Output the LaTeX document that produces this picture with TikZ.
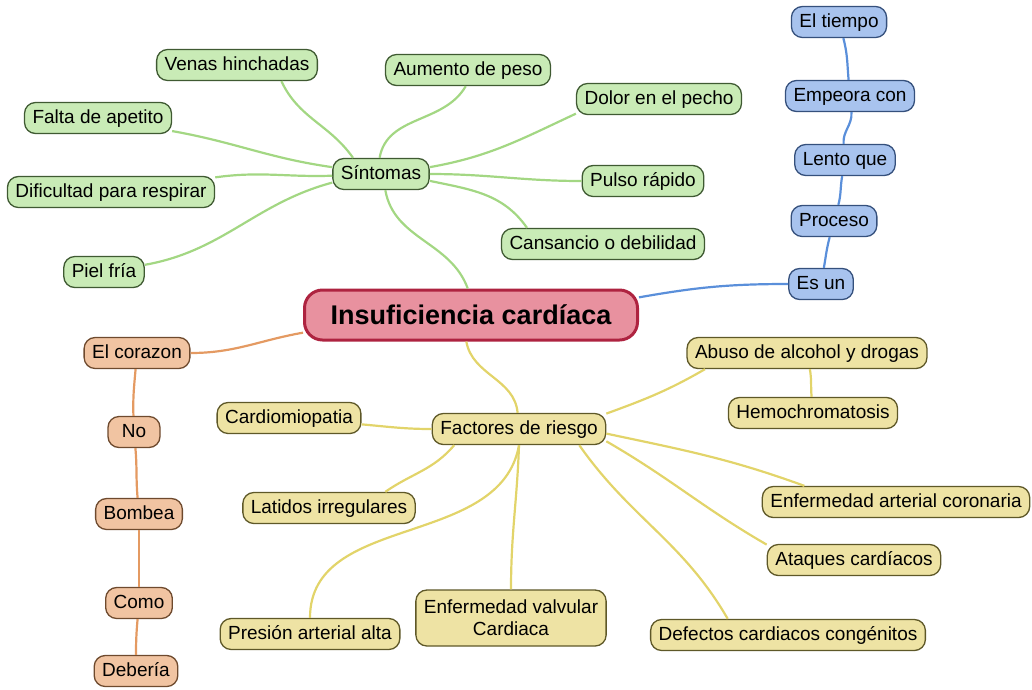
\documentclass[tikz,border=0pt]{standalone}
\usepackage{fontspec}
\setmainfont{Liberation Sans}

\definecolor{symfill}{HTML}{C9EBB6}
\definecolor{symdraw}{HTML}{3F5A32}
\definecolor{symline}{HTML}{A3D783}
\definecolor{riskfill}{HTML}{EEE3A4}
\definecolor{riskdraw}{HTML}{5E5828}
\definecolor{riskline}{HTML}{E2D46A}
\definecolor{bluefill}{HTML}{A8C3EE}
\definecolor{bluedraw}{HTML}{35507C}
\definecolor{blueline}{HTML}{5A8FDA}
\definecolor{orgfill}{HTML}{F1C4A2}
\definecolor{orgdraw}{HTML}{6E4A2E}
\definecolor{orgline}{HTML}{E49A62}
\definecolor{mainfill}{HTML}{E8919F}
\definecolor{maindraw}{HTML}{AE2340}

\begin{document}
\begin{tikzpicture}[x=1pt, y=1pt,
		box/.style={draw, rounded corners=11pt, line width=1.3pt, inner xsep=8pt, inner ysep=0pt,
			minimum height=31pt, text height=14pt, text depth=4pt, font=\fontsize{19}{22}\selectfont},
		sym/.style={box, fill=symfill, draw=symdraw},
		risk/.style={box, fill=riskfill, draw=riskdraw},
		blu/.style={box, fill=bluefill, draw=bluedraw},
		org/.style={box, fill=orgfill, draw=orgdraw},
		symln/.style={draw=symline, line width=2.2pt},
		riskln/.style={draw=riskline, line width=2.2pt},
		bluln/.style={draw=blueline, line width=2.2pt},
		orgln/.style={draw=orgline, line width=2.2pt}]
		\useasboundingbox (0,0) rectangle (1032,-689);
		
		% centre
		\node[draw=maindraw, fill=mainfill, line width=3pt, rounded corners=18pt, minimum width=333pt, minimum height=50pt,
			font=\fontsize{27}{30}\selectfont\bfseries] (ic) at (471,-315) {Insuficiencia cardíaca};
		
		% sintomas
		\node[sym] (sint) at (381,-174) {Síntomas};
		\node[sym] (venas) at (237,-65) {Venas hinchadas};
		\node[sym] (aum) at (468,-70) {Aumento de peso};
		\node[sym] (falta) at (98,-118) {Falta de apetito};
		\node[sym] (dolor) at (659,-99) {Dolor en el pecho};
		\node[sym] (dif) at (111,-192) {Dificultad para respirar};
		\node[sym] (pulso) at (643,-181) {Pulso rápido};
		\node[sym] (cans) at (603,-244) {Cansancio o debilidad};
		\node[sym] (piel) at (104,-272) {Piel fría};
		
		% proceso
		\node[blu] (tiempo) at (839,-22) {El tiempo};
		\node[blu] (emp) at (850,-96) {Empeora con};
		\node[blu] (lento) at (845,-160) {Lento que};
		\node[blu] (proc) at (834,-221) {Proceso};
		\node[blu] (esun) at (821,-284) {Es un};
		
		% corazon
		\node[org] (cor) at (137,-353) {El corazon};
		\node[org, minimum width=52pt] (no) at (134,-432) {No};
		\node[org] (bomb) at (139,-514) {Bombea};
		\node[org] (como) at (139,-603) {Como};
		\node[org] (deb) at (136,-671) {Debería};
		
		% factores
		\node[risk] (fact) at (519,-429) {Factores de riesgo};
		\node[risk] (cardio) at (289,-418) {Cardiomiopatia};
		\node[risk] (lat) at (329,-508) {Latidos irregulares};
		\node[risk] (pres) at (310,-634) {Presión arterial alta};
		\node[risk, minimum height=56pt, align=center, text height=, text depth=, inner ysep=4pt] (valv) at (511,-618) {Enfermedad valvular\\Cardiaca};
		\node[risk] (def) at (788,-635) {Defectos cardiacos congénitos};
		\node[risk] (ataq) at (854,-560) {Ataques cardíacos};
		\node[risk] (coron) at (896,-502) {Enfermedad arterial coronaria};
		\node[risk] (abuso) at (807,-353) {Abuso de alcohol y drogas};
		\node[risk] (hemo) at (813,-413) {Hemochromatosis};
		
		\draw[symln] (ic.97) to[out=110, in=-80] (sint.-75);
		\draw[riskln] (ic.-100) to[out=-80, in=95] (fact);
		\draw[bluln] (ic.6) to[out=10, in=180] (esun);
		\draw[orgln] (ic.186) to[out=190, in=0] (cor);
		
		\draw[symln] (sint.150) to[out=125, in=-65] (venas.-20);
		\draw[symln] (sint.95) to[out=80, in=-120] (aum.-98);
		\draw[symln] (sint.172) to[out=172, in=-10] (falta);
		\draw[symln] (sint.182) to[out=182, in=8] (dif);
		\draw[symln] (sint.190) to[out=195, in=10] (piel);
		\draw[symln] (sint.8) to[out=10, in=205] (dolor.190);
		\draw[symln] (sint) to[out=0, in=180] (pulso);
		\draw[symln] (sint.-8) to[out=-12, in=125] (cans.168);
		
		\draw[bluln] (esun) to[out=80, in=-105] (proc);
		\draw[bluln] (proc) to[out=75, in=-100] (lento);
		\draw[bluln] (lento) to[out=95, in=-85] (emp);
		\draw[bluln] (emp) to[out=95, in=-75] (tiempo);
		
		\draw[orgln] (cor) to[out=-95, in=92] (no);
		\draw[orgln] (no) to[out=-85, in=95] (bomb);
		\draw[orgln] (bomb) to[out=-90, in=90] (como);
		\draw[orgln] (como) to[out=-95, in=90] (deb);
		
		\draw[riskln] (fact) to[out=180, in=-5] (cardio);
		\draw[riskln] (fact.-166) to[out=-130, in=35] (lat.16);
		\draw[riskln] (fact.-90) to[out=-100, in=90] (pres);
		\draw[riskln] (fact.-90) to[out=-92, in=90] (valv);
		\draw[riskln] (fact.-15) to[out=-55, in=120] (def.165);
		\draw[riskln] (fact.-8) to[out=-30, in=150] (ataq.170);
		\draw[riskln] (fact.-3) to[out=-12, in=160] (coron.170);
		\draw[riskln] (fact.10) to[out=20, in=-150] (abuso.189);
		\draw[riskln] (abuso) to[out=-80, in=95] (hemo);
	
	\end{tikzpicture}
\end{document}
